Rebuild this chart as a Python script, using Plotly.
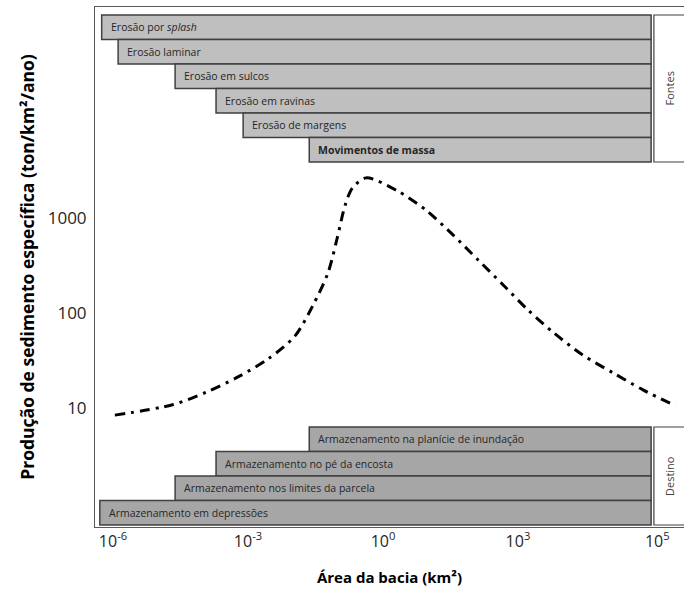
import math
import plotly.graph_objects as go

# ---- data -------------------------------------------------------------
area_km2 = [1.1e-6, 2.1e-5, 1.2e-4, 6.0e-4, 2.8e-3, 1.1e-2, 2.75e-2, 6.0e-2,
            9.5e-2, 0.145, 0.21, 0.42, 2.1, 9.5, 36, 130, 470, 1650, 6300,
            2.75e4, 1.3e5, 6.0e5, 3.2e6]
production = [8.4, 10.8, 14.7, 21.2, 32.8, 57, 119, 264, 600, 1370, 2070,
              2640, 1925, 1185, 662, 361, 197, 108, 61.5, 36.1, 23.4, 15.5, 10.5]

source_labels = ["Erosão por <i>splash</i>", "Erosão laminar", "Erosão em sulcos",
                 "Erosão em ravinas", "Erosão de margens", "<b>Movimentos de massa</b>"]
source_start_area = [5.6e-7, 1.3e-6, 2.4e-5, 1.95e-4, 7.8e-4, 0.023]
sink_labels = ["Armazenamento na planície de inundação", "Armazenamento no pé da encosta",
               "Armazenamento nos limites da parcela", "Armazenamento em depressões"]
sink_start_area = [0.023, 1.95e-4, 2.4e-5, 5.1e-7]
band_end_area = 9.1e5
group_start_area = 1.05e6
group_labels = ["Fontes", "Destino"]

x_tick_vals = [1e-6, 1e-3, 1, 1e3, 1.25e6]
x_tick_text = ["10<sup>-6</sup>", "10<sup>-3</sup>", "10<sup>0</sup>",
               "10<sup>3</sup>", "10<sup>5</sup>"]
y_tick_vals = [10, 100, 1000]
y_tick_text = ["10", "100", "1000"]

# ---- layout geometry ---------------------------------------------------
W, H = 684, 592
ML, MR, MT, MB = 95, 0, 7, 65
PH = H - MT - MB


def py(p):
    """pixel row -> paper y"""
    return (H - MB - p) / PH


FONT = "Open Sans"
fig = go.Figure()
fig.add_trace(go.Scatter(x=area_km2, y=production, mode="lines",
                         line=dict(color="black", width=3, dash="10px,6px,3px,6px",
                                   shape="spline", smoothing=0.8),
                         hoverinfo="skip", showlegend=False))

shapes = []
annotations = []
row_h = 24.5
top0 = 15
box_font = dict(family=FONT, size=10.5, color="#262626")
group_font = dict(family=FONT, size=11, color="#404040")
for i, (lab, start) in enumerate(zip(source_labels, source_start_area)):
    y1 = py(top0 + i * row_h)
    y0 = py(top0 + (i + 1) * row_h)
    shapes.append(dict(type="rect", xref="x", yref="paper", layer="above",
                       x0=start, x1=band_end_area, y0=y0, y1=y1,
                       fillcolor="#bfbfbf", line=dict(color="#404040", width=1.5)))
    annotations.append(dict(x=math.log10(start), y=(y0 + y1) / 2, xref="x", yref="paper",
                            text=lab, showarrow=False, xanchor="left", yanchor="middle",
                            xshift=7, font=box_font))
# Fontes box
shapes.append(dict(type="rect", xref="x", yref="paper", layer="above",
                   x0=group_start_area, x1=1e9, y0=py(top0 + 6 * row_h), y1=py(top0),
                   fillcolor="white", line=dict(color="#404040", width=1.2)))
annotations.append(dict(x=(669 - ML) / (W - ML - MR), y=py(top0 + 3 * row_h), xref="paper",
                        yref="paper", text=group_labels[0], textangle=-90, showarrow=False,
                        xanchor="center", yanchor="middle", font=group_font))

bot0 = 427
for i, (lab, start) in enumerate(zip(sink_labels, sink_start_area)):
    y1 = py(bot0 + i * row_h)
    y0 = py(bot0 + (i + 1) * row_h)
    shapes.append(dict(type="rect", xref="x", yref="paper", layer="above",
                       x0=start, x1=band_end_area, y0=y0, y1=y1,
                       fillcolor="#a6a6a6", line=dict(color="#404040", width=1.5)))
    annotations.append(dict(x=math.log10(start), y=(y0 + y1) / 2, xref="x", yref="paper",
                            text=lab, showarrow=False, xanchor="left", yanchor="middle",
                            xshift=7, font=box_font))
shapes.append(dict(type="rect", xref="x", yref="paper", layer="above",
                   x0=group_start_area, x1=1e9, y0=py(bot0 + 4 * row_h), y1=py(bot0),
                   fillcolor="white", line=dict(color="#404040", width=1.2)))
annotations.append(dict(x=(669 - ML) / (W - ML - MR), y=py(bot0 + 2 * row_h), xref="paper",
                        yref="paper", text=group_labels[1], textangle=-90, showarrow=False,
                        xanchor="center", yanchor="middle", font=group_font))

fig.update_layout(
    width=W, height=H,
    margin=dict(l=ML, r=MR, t=MT, b=MB),
    paper_bgcolor="white", plot_bgcolor="white",
    shapes=shapes, annotations=annotations,
    font=dict(family=FONT, color="#404040"),
    xaxis=dict(type="log", range=[-6.4, 6.69], tickvals=x_tick_vals, ticktext=x_tick_text,
               showgrid=False, zeroline=False, showline=True, linecolor="#595959",
               linewidth=1, mirror=True, ticks="", automargin=False,
               tickfont=dict(size=16, color="#262626"),
               title=dict(text="<b>Área da bacia (km²)</b>",
                          font=dict(size=15, color="black"), standoff=21)),
    yaxis=dict(type="log", range=[-0.253, 5.22], tickvals=y_tick_vals, ticktext=y_tick_text,
               showgrid=False, zeroline=False, showline=True, linecolor="#595959",
               linewidth=1, mirror=False, ticks="", automargin=False,
               tickfont=dict(size=17, color="#262626"),
               ticklabelstandoff=4,
               title=dict(text="<b>Produção de sedimento específica (ton/km²/ano)</b>",
                          font=dict(size=17.5, color="black"), standoff=8)),
)

fig.write_html("out.html", config={"displayModeBar": False},
               post_script="document.body.style.margin='0';")
